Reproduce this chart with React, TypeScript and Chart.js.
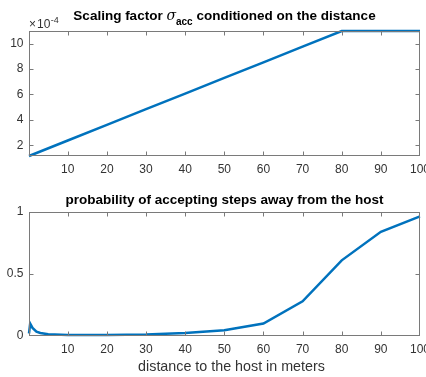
import React, { useEffect, useRef } from 'react';
import { Chart, registerables } from 'chart.js';

Chart.register(...registerables);

// ---------- data ----------
const distanceTop = [0.1, 10, 20, 30, 40, 50, 60, 70, 80, 90, 100];
// scaling factor sigma_acc in units of 1e-4
const sigmaAccE4 = [1.15, 2.37, 3.6, 4.84, 6.07, 7.3, 8.53, 9.77, 11, 11, 11];

const distanceBottom = [0.1, 0.4, 1, 2, 3, 5, 10, 20, 30, 40, 50, 60, 70, 80, 90, 100];
const acceptProb = [0.02, 0.1, 0.065, 0.035, 0.024, 0.015, 0.009, 0.008, 0.012, 0.025, 0.046, 0.1, 0.28, 0.61, 0.84, 0.965];

const xTickValues = [10, 20, 30, 40, 50, 60, 70, 80, 90, 100];
const yTickValuesTop = [2, 4, 6, 8, 10];
const yTickValuesBottom = [0, 0.5, 1];
const yTickLabelsBottom = ['0', '0.5', '1'];

const topTitleParts = [
  { text: 'Scaling factor ', kind: 'bold' },
  { text: '\u03C3', kind: 'greek' },
  { text: 'acc', kind: 'sub' },
  { text: ' conditioned on the distance', kind: 'bold' },
];
const bottomTitleParts = [{ text: 'probability of accepting steps away from the host', kind: 'bold' }];
const xAxisLabel = 'distance to the host in meters';

// ---------- style ----------
const FONT = '"Liberation Sans", Arial, Helvetica, sans-serif';
const AXIS = '#7a7a7a';
const TEXT = '#333333';
const LINE = '#0072BD';

function fontFor(kind: string) {
  if (kind === 'bold') return `bold 13.5px ${FONT}`;
  if (kind === 'greek') return `italic 14px "DejaVu Serif", "Liberation Serif", serif`;
  if (kind === 'sub') return `bold 10px ${FONT}`;
  return `12px ${FONT}`;
}

const matlabAxes = {
  id: 'matlabAxes',
  afterDraw(chart: any, _args: any, opts: any) {
    const { ctx, chartArea: a } = chart;
    const xs = chart.scales.x;
    const ys = chart.scales.y;
    const L = Math.round(a.left) + 0.5;
    const R = Math.round(a.right) - 0.5;
    const T = Math.round(a.top) + 0.5;
    const B = Math.round(a.bottom) - 0.5;
    ctx.save();
    ctx.strokeStyle = AXIS;
    ctx.lineWidth = 1;
    ctx.strokeRect(L, T, R - L, B - T);
    const tl = 4;
    ctx.beginPath();
    xs.ticks.forEach((t: any) => {
      const px = Math.round(xs.getPixelForValue(t.value)) + 0.5;
      if (px < L + 1 || px > R - 1) return;
      ctx.moveTo(px, B);
      ctx.lineTo(px, B - tl);
      ctx.moveTo(px, T);
      ctx.lineTo(px, T + tl);
    });
    ys.ticks.forEach((t: any) => {
      const py = Math.round(ys.getPixelForValue(t.value)) + 0.5;
      if (py < T + 1 || py > B - 1) return;
      ctx.moveTo(L, py);
      ctx.lineTo(L + tl, py);
      ctx.moveTo(R, py);
      ctx.lineTo(R - tl, py);
    });
    ctx.stroke();

    // tick labels
    ctx.fillStyle = TEXT;
    ctx.font = `12px ${FONT}`;
    ctx.textAlign = 'center';
    ctx.textBaseline = 'middle';
    xs.ticks.forEach((t: any) => {
      ctx.fillText(String(t.value), xs.getPixelForValue(t.value), B + opts.xLabelGap);
    });
    ctx.textAlign = 'right';
    ys.ticks.forEach((t: any, i: number) => {
      const label = opts.yLabels ? opts.yLabels[i] : String(t.value);
      ctx.fillText(label, L - 6, ys.getPixelForValue(t.value));
    });

    // title
    ctx.textBaseline = 'alphabetic';
    ctx.textAlign = 'left';
    let total = 0;
    const widths = opts.title.map((p: any) => {
      ctx.font = fontFor(p.kind);
      const w = ctx.measureText(p.text).width;
      total += w;
      return w;
    });
    let cx = (L + R) / 2 - total / 2;
    ctx.fillStyle = '#000000';
    opts.title.forEach((p: any, i: number) => {
      ctx.font = fontFor(p.kind);
      const yy = p.kind === 'sub' ? opts.titleBaseline + 4.5 : opts.titleBaseline;
      ctx.fillText(p.text, cx, yy);
      cx += widths[i];
    });

    // exponent label
    if (opts.exponent) {
      ctx.fillStyle = TEXT;
      ctx.font = `12px ${FONT}`;
      const bx = L - 0.5;
      ctx.fillText('\u00D7', bx, T - 3.5);
      const w1 = ctx.measureText('\u00D7').width;
      ctx.fillText('10', bx + w1 + 1, T - 3.5);
      const w2 = ctx.measureText('10').width;
      ctx.font = `9px ${FONT}`;
      ctx.fillText(opts.exponent, bx + w1 + 1 + w2 + 0.5, T - 9);
    }

    // x axis label
    if (opts.xLabel) {
      ctx.fillStyle = TEXT;
      ctx.font = `14.3px ${FONT}`;
      ctx.textAlign = 'center';
      ctx.textBaseline = 'middle';
      ctx.fillText(opts.xLabel, (L + R) / 2 + 7, B + opts.xTitleGap);
    }
    ctx.restore();
  },
};

function makeConfig(
  xs: number[],
  ys: number[],
  yMin: number,
  yMax: number,
  yTicks: number[],
  padding: any,
  pluginOpts: any,
): any {
  return {
    type: 'line',
    data: {
      datasets: [
        {
          data: xs.map((v, i) => ({ x: v, y: ys[i] })),
          borderColor: LINE,
          borderWidth: 2.5,
          pointRadius: 0,
          tension: 0,
          fill: false,
          clip: false,
        },
      ],
    },
    options: {
      responsive: false,
      animation: false,
      devicePixelRatio: 1,
      layout: { padding },
      plugins: {
        legend: { display: false },
        tooltip: { enabled: false },
        title: { display: false },
        matlabAxes: pluginOpts,
      },
      scales: {
        x: {
          type: 'linear',
          min: 0.1,
          max: 100,
          grid: { display: false, drawTicks: false },
          border: { display: false },
          ticks: { display: false },
          afterBuildTicks: (s: any) => {
            s.ticks = xTickValues.map((v) => ({ value: v }));
          },
          afterFit: (s: any) => {
            s.height = 0;
          },
        },
        y: {
          type: 'linear',
          min: yMin,
          max: yMax,
          grid: { display: false, drawTicks: false },
          border: { display: false },
          ticks: { display: false },
          afterBuildTicks: (s: any) => {
            s.ticks = yTicks.map((v) => ({ value: v }));
          },
          afterFit: (s: any) => {
            s.width = 0;
          },
        },
      },
    },
    plugins: [matlabAxes],
  };
}

export default function App() {
  const topRef = useRef<HTMLCanvasElement | null>(null);
  const botRef = useRef<HTMLCanvasElement | null>(null);

  useEffect(() => {
    const c1 = new Chart(
      topRef.current as HTMLCanvasElement,
      makeConfig(distanceTop, sigmaAccE4, 1.15, 11, yTickValuesTop, { left: 29, right: 6, top: 31, bottom: 184 - 156 }, {
        title: topTitleParts,
        titleBaseline: 20,
        xLabelGap: 14,
        exponent: '-4',
      }),
    );
    const c2 = new Chart(
      botRef.current as HTMLCanvasElement,
      makeConfig(distanceBottom, acceptProb, 0, 1, yTickValuesBottom, { left: 29, right: 6, top: 212 - 184, bottom: 193 - (336 - 184) }, {
        title: bottomTitleParts,
        titleBaseline: 20,
        xLabelGap: 14,
        yLabels: yTickLabelsBottom,
        xLabel: xAxisLabel,
        xTitleGap: 31.5,
      }),
    );
    return () => {
      c1.destroy();
      c2.destroy();
    };
  }, []);

  return (
    <div style={{ position: 'absolute', left: 0, top: 0, width: 426, height: 377, background: '#ffffff' }}>
      <canvas ref={topRef} width={426} height={184} style={{ position: 'absolute', left: 0, top: 0, width: 426, height: 184 }} />
      <canvas ref={botRef} width={426} height={193} style={{ position: 'absolute', left: 0, top: 184, width: 426, height: 193 }} />
    </div>
  );
}
